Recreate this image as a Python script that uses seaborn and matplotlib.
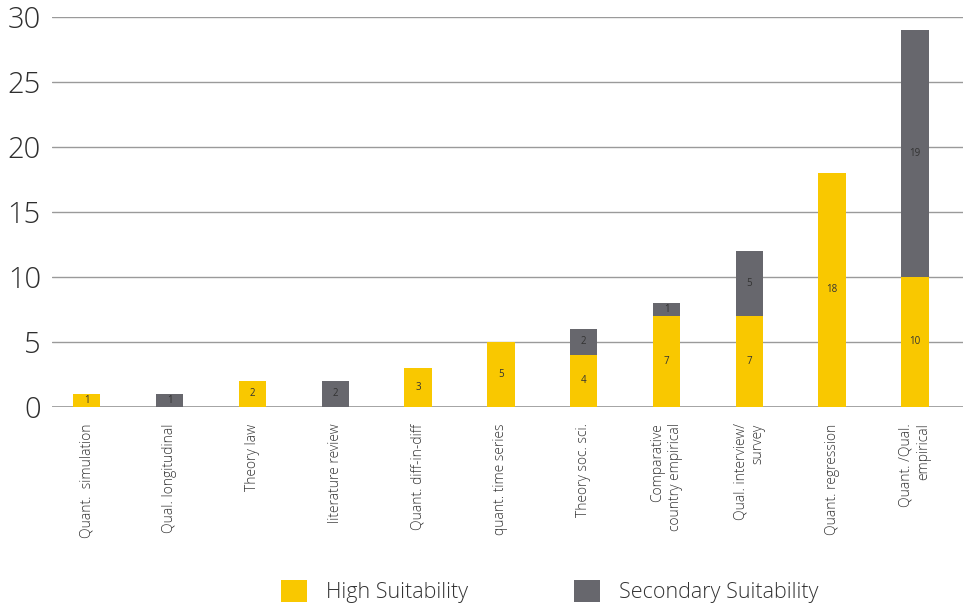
import matplotlib
matplotlib.use("Agg")
import matplotlib.pyplot as plt
from matplotlib.patches import Patch
import numpy as np
import pandas as pd
import seaborn as sns

categories = [
    "Quant.  simulation",
    "Qual. longitudinal",
    "Theory law",
    "literature review",
    "Quant. diff-in-diff",
    "quant. time series",
    "Theory soc. sci.",
    "Comparative\ncountry empirical",
    "Qual. interview/\nsurvey",
    "Quant. regression",
    "Quant. /Qual.\nempirical",
]
high = [1, 0, 2, 0, 3, 5, 4, 7, 7, 18, 10]
secondary = [0, 1, 0, 2, 0, 0, 2, 1, 5, 0, 19]
y_ticks = [0, 5, 10, 15, 20, 25, 30]

YELLOW = "#F9C800"
GREY = "#67676D"
TEXT = "#333333"

sns.set_theme(style="white")
plt.rcParams["font.family"] = ["Open Sans", "DejaVu Sans"]

df = pd.DataFrame({
    "method": categories,
    "high": high,
    "secondary": secondary,
})
df["total"] = df["high"] + df["secondary"]

fig = plt.figure(figsize=(9.63, 6.09), dpi=100)
ax = fig.add_axes([0.054, 0.332, 0.946, 0.640])

bar_w = 0.33
# total height in grey, high-suitability share drawn over it in yellow
sns.barplot(data=df, x="method", y="total", color=GREY, width=bar_w,
            saturation=1, linewidth=0, ax=ax, order=categories)
sns.barplot(data=df, x="method", y="high", color=YELLOW, width=bar_w,
            saturation=1, linewidth=0, ax=ax, order=categories)

# segment value labels
for i, (h, s) in enumerate(zip(high, secondary)):
    if h > 0:
        ax.text(i, h / 2, str(h), ha="center", va="center",
                fontsize=7, color=TEXT)
    if s > 0:
        ax.text(i, h + s / 2, str(s), ha="center", va="center",
                fontsize=7, color=TEXT)

ax.set_ylim(0, 30)
ax.set_xlim(-0.42, 10.58)
ax.set_yticks(y_ticks)
ax.set_yticklabels([str(t) for t in y_ticks], fontsize=21,
                   fontweight="light", color="#2e2e2e")
ax.yaxis.grid(True, color="#9a9a9a", linewidth=1.0)
ax.set_axisbelow(True)
for sp in ax.spines.values():
    sp.set_visible(False)
ax.axhline(0, color="#9a9a9a", linewidth=1.2, zorder=0.5)
ax.tick_params(axis="y", length=0, pad=8)
ax.tick_params(axis="x", length=0, pad=12)
ax.set_xticks(range(len(categories)))
ax.set_xticklabels(categories, rotation=90, fontsize=10, color=TEXT,
                   ha="center", va="top", multialignment="right",
                   fontweight="light")
ax.set_xlabel("")
ax.set_ylabel("")

handles = [Patch(facecolor=YELLOW, edgecolor="none", label="High Suitability"),
           Patch(facecolor=GREY, edgecolor="none", label="Secondary Suitability")]
leg = fig.legend(handles=handles, loc="center",
                 bbox_to_anchor=(0.571, 0.028), ncol=2, frameon=False,
                 handlelength=1.2, handleheight=1.15, handletextpad=0.9,
                 columnspacing=4.9, borderpad=0,
                 prop={"weight": "light", "size": 15.5})
for t in leg.get_texts():
    t.set_color(TEXT)

fig.savefig("out.png", dpi=100)
